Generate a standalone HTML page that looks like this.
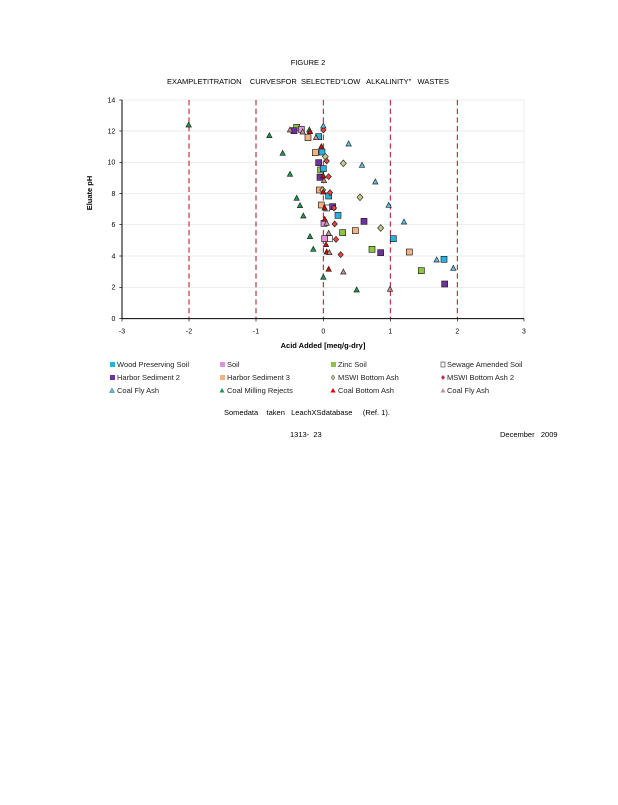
<!DOCTYPE html>
<html><head><meta charset="utf-8"><style>
body{margin:0;background:#fff;width:618px;height:800px;overflow:hidden;font-family:"Liberation Sans",sans-serif;}
</style></head><body>
<svg width="618" height="800" xmlns="http://www.w3.org/2000/svg" font-family="Liberation Sans, sans-serif">
<text x="308" y="65" font-size="7.5" text-anchor="middle">FIGURE  2</text>
<text x="308" y="84" font-size="7.5" text-anchor="middle" xml:space="preserve">EXAMPLETITRATION    CURVESFOR  SELECTED"LOW   ALKALINITY"   WASTES</text>
<g transform="translate(100,90) scale(0.33333)">
<!-- grid -->
<g stroke="#e4e4e4" stroke-width="2">
<line x1="66" y1="30" x2="1272" y2="30"/><line x1="66" y1="123" x2="1272" y2="123"/><line x1="66" y1="217" x2="1272" y2="217"/><line x1="66" y1="311" x2="1272" y2="311"/><line x1="66" y1="404" x2="1272" y2="404"/><line x1="66" y1="498" x2="1272" y2="498"/><line x1="66" y1="592" x2="1272" y2="592"/><line x1="1272" y1="30" x2="1272" y2="686"/>
</g>
<g stroke="#b01020" stroke-width="3" stroke-dasharray="16,10">
<line x1="267" y1="30" x2="267" y2="686"/><line x1="468" y1="30" x2="468" y2="686"/><line x1="670" y1="30" x2="670" y2="686"/><line x1="871" y1="30" x2="871" y2="686"/><line x1="1072" y1="30" x2="1072" y2="686"/>
</g>
<g stroke="#000" stroke-width="3"><line x1="66" y1="30" x2="66" y2="686"/><line x1="66" y1="686" x2="1272" y2="686"/></g>
<g stroke="#000" stroke-width="2">
<line x1="58" y1="30" x2="66" y2="30"/><line x1="58" y1="123" x2="66" y2="123"/><line x1="58" y1="217" x2="66" y2="217"/><line x1="58" y1="311" x2="66" y2="311"/><line x1="58" y1="404" x2="66" y2="404"/><line x1="58" y1="498" x2="66" y2="498"/><line x1="58" y1="592" x2="66" y2="592"/><line x1="58" y1="686" x2="66" y2="686"/>
<line x1="66" y1="686" x2="66" y2="694"/><line x1="267" y1="686" x2="267" y2="694"/><line x1="468" y1="686" x2="468" y2="694"/><line x1="670" y1="686" x2="670" y2="694"/><line x1="871" y1="686" x2="871" y2="694"/><line x1="1072" y1="686" x2="1072" y2="694"/><line x1="1272" y1="686" x2="1272" y2="694"/>
</g>
<g font-size="21" text-anchor="end">
<text x="46" y="37">14</text><text x="46" y="130">12</text><text x="46" y="224">10</text><text x="46" y="318">8</text><text x="46" y="411">6</text><text x="46" y="505">4</text><text x="46" y="599">2</text><text x="46" y="693">0</text>
</g>
<g font-size="21" text-anchor="middle">
<text x="66" y="730">-3</text><text x="267" y="730">-2</text><text x="468" y="730">-1</text><text x="670" y="730">0</text><text x="871" y="730">1</text><text x="1072" y="730">2</text><text x="1272" y="730">3</text>
</g>
<g stroke="#222" stroke-width="2">
<!-- squares -->
<g fill="#8cc63f"><rect x="581" y="103" width="18" height="18"/><rect x="653" y="231" width="18" height="18"/><rect x="719" y="419" width="18" height="18"/><rect x="807" y="469" width="18" height="18"/><rect x="955" y="533" width="18" height="18"/></g>
<g fill="#7030a0"><rect x="573" y="113" width="18" height="18"/><rect x="647" y="209" width="18" height="18"/><rect x="651" y="253" width="18" height="18"/><rect x="689" y="341" width="18" height="18"/><rect x="783" y="385" width="18" height="18"/><rect x="833" y="479" width="18" height="18"/><rect x="1025" y="573" width="18" height="18"/></g>
<g fill="#f4b183"><rect x="615" y="134" width="18" height="18"/><rect x="637" y="179" width="18" height="18"/><rect x="649" y="291" width="18" height="18"/><rect x="655" y="336" width="18" height="18"/><rect x="757" y="413" width="18" height="18"/><rect x="919" y="477" width="18" height="18"/></g>
<g fill="#29b0e0"><rect x="647" y="131" width="18" height="18"/><rect x="657" y="177" width="18" height="18"/><rect x="661" y="227" width="18" height="18"/><rect x="677" y="309" width="18" height="18"/><rect x="705" y="367" width="18" height="18"/><rect x="871" y="437" width="18" height="18"/><rect x="1023" y="499" width="18" height="18"/></g>
<g fill="#fff"><rect x="671" y="345" width="18" height="18"/><rect x="679" y="437" width="18" height="18"/></g>
<g fill="#e090e0"><rect x="595" y="109" width="18" height="18"/><rect x="663" y="391" width="18" height="18"/><rect x="665" y="437" width="18" height="18"/></g>
<!-- diamonds -->
<g fill="#c8c88a"><path d="M676 190l9 10-9 10-9-10z"/><path d="M730 210l9 10-9 10-9-10z"/><path d="M780 312l9 10-9 10-9-10z"/><path d="M842 404l9 10-9 10-9-10z"/><path d="M668 290l9 10-9 10-9-10z"/></g>
<g fill="#f04040"><path d="M680 204l8 9-8 9-8-9z"/><path d="M686 251l8 9-8 9-8-9z"/><path d="M690 299l8 9-8 9-8-9z"/><path d="M702 345l8 9-8 9-8-9z"/><path d="M704 393l8 9-8 9-8-9z"/><path d="M708 439l8 9-8 9-8-9z"/><path d="M722 485l8 9-8 9-8-9z"/><path d="M670 111l8 9-8 9-8-9z"/></g>
<!-- triangles -->
<g fill="#1a9a50"><path d="M266 96l8 15h-16z"/><path d="M508 128l8 15h-16z"/><path d="M548 181l8 15h-16z"/><path d="M570 244l8 15h-16z"/><path d="M590 316l8 15h-16z"/><path d="M600 338l8 15h-16z"/><path d="M610 369l8 15h-16z"/><path d="M630 431l8 15h-16z"/><path d="M640 469l8 15h-16z"/><path d="M670 553l8 15h-16z"/><path d="M770 591l8 15h-16z"/><path d="M628 111l8 15h-16z"/></g>
<g fill="#5bc0eb"><path d="M670 99l8 15h-16z"/><path d="M746 153l8 15h-16z"/><path d="M786 217l8 15h-16z"/><path d="M826 267l8 15h-16z"/><path d="M866 337l8 15h-16z"/><path d="M912 387l8 15h-16z"/><path d="M1010 501l8 15h-16z"/><path d="M1060 526l8 15h-16z"/></g>
<g fill="#e00000"><path d="M630 116l8 15h-16z"/><path d="M664 161l8 15h-16z"/><path d="M670 249l8 15h-16z"/><path d="M670 297l8 15h-16z"/><path d="M674 345l8 15h-16z"/><path d="M674 379l8 15h-16z"/><path d="M678 455l8 15h-16z"/><path d="M680 477l8 15h-16z"/><path d="M686 529l8 15h-16z"/></g>
<g fill="#c89090"><path d="M570 111l8 15h-16z"/><path d="M608 117l8 15h-16z"/><path d="M648 134l8 15h-16z"/><path d="M672 263l8 15h-16z"/><path d="M680 391l8 15h-16z"/><path d="M686 421l8 15h-16z"/><path d="M688 479l8 15h-16z"/><path d="M730 537l8 15h-16z"/><path d="M870 589l8 15h-16z"/></g>
</g>
</g>
<text x="323" y="348" font-size="7.5" font-weight="bold" text-anchor="middle">Acid Added [meq/g-dry]</text>
<text transform="translate(92,193) rotate(-90)" font-size="7.5" font-weight="bold" text-anchor="middle">Eluate pH</text>
<g font-size="7.5" fill="#222">
<rect x="110" y="362" width="5" height="5" fill="#29b0e0"/><text x="117" y="367">Wood Preserving Soil</text>
<rect x="220" y="362" width="5" height="5" fill="#e090e0"/><text x="227" y="367">Soil</text>
<rect x="331" y="362" width="5" height="5" fill="#8cc63f"/><text x="338" y="367">Zinc Soil</text>
<rect x="441" y="362" width="4" height="5" fill="#fff" stroke="#333" stroke-width="0.6"/><text x="447" y="367">Sewage Amended Soil</text>
<rect x="110" y="375" width="5" height="5" fill="#7030a0"/><text x="117" y="380">Harbor Sediment 2</text>
<rect x="220" y="375" width="5" height="5" fill="#f4b183"/><text x="227" y="380">Harbor Sediment 3</text>
<path d="M333 375l2 2.5-2 2.5-2-2.5z" fill="#c8c88a" stroke="#333" stroke-width="0.5"/><text x="338" y="380">MSWI Bottom Ash</text>
<path d="M443 375l2 2.5-2 2.5-2-2.5z" fill="#c03050"/><text x="447" y="380">MSWI Bottom Ash 2</text>
<path d="M112 388l2.5 4.5h-5z" fill="#5bc0eb" stroke="#333" stroke-width="0.4"/><text x="117" y="393">Coal Fly Ash</text>
<path d="M222 388l2.5 4.5h-5z" fill="#1a9a50"/><text x="227" y="393">Coal Milling Rejects</text>
<path d="M333 388l2.5 4.5h-5z" fill="#e00000"/><text x="338" y="393">Coal Bottom Ash</text>
<path d="M443 388l2.5 4.5h-5z" fill="#c89090"/><text x="447" y="393">Coal Fly Ash</text>
</g>
<text x="224" y="415" font-size="7.5" xml:space="preserve">Somedata    taken   LeachXSdatabase     (Ref. 1).</text>
<text x="290" y="437" font-size="7.5" xml:space="preserve">1313-  23</text>
<text x="500" y="437" font-size="7.5" xml:space="preserve">December   2009</text>
</svg>
</body></html>
